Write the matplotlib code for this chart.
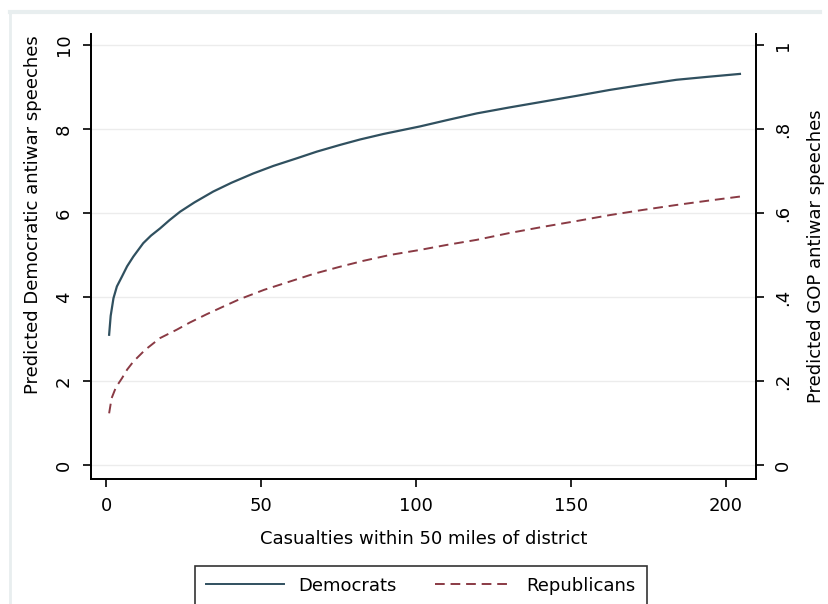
import matplotlib.pyplot as plt
from matplotlib.lines import Line2D

plt.rcParams['font.family'] = ['DejaVu Sans']

# values
casualties_dem = [1, 1.5, 2.4, 3.5, 5.1, 6.8, 8.8, 12, 14.5, 17.4, 20.5, 23.9, 28.5,
                  34.6, 40.5, 47.5, 54, 61.5, 68, 75.5, 82, 89.5, 101.3, 110, 119.6,
                  130, 141, 152, 162.6, 173, 184, 194, 204.5]
dem_speeches = [3.1, 3.55, 3.97, 4.25, 4.48, 4.73, 4.96, 5.28, 5.46, 5.63, 5.83, 6.03,
                6.25, 6.51, 6.72, 6.94, 7.12, 7.3, 7.46, 7.62, 7.75, 7.88, 8.06, 8.21,
                8.37, 8.51, 8.65, 8.79, 8.93, 9.05, 9.17, 9.24, 9.31]

casualties_rep = [1, 1.8, 3.2, 5.1, 6.8, 8.8, 12.6, 17.4, 22.8, 27, 32.5, 37.8, 43.2,
                  51, 59.4, 67, 75.5, 83, 91.6, 101.3, 110, 119.6, 130, 141, 152,
                  162.6, 173, 184, 194, 204.5]
rep_speeches = [0.123, 0.159, 0.185, 0.206, 0.227, 0.246, 0.274, 0.302, 0.322, 0.339,
                0.359, 0.377, 0.395, 0.417, 0.437, 0.455, 0.472, 0.486, 0.500, 0.512,
                0.524, 0.536, 0.552, 0.567, 0.581, 0.595, 0.607, 0.619, 0.629, 0.639]

x_ticks = [0, 50, 100, 150, 200]
left_ticks = [0, 2, 4, 6, 8, 10]
right_ticks = [0, 0.2, 0.4, 0.6, 0.8, 1]
right_labels = ["0", ".2", ".4", ".6", ".8", "1"]

dem_color = "#30505f"
rep_color = "#8a3a44"
fs = 13

fig = plt.figure(figsize=(8.29, 6.04), dpi=100)
ax = fig.add_axes([0.1098, 0.207, 0.8022, 0.7367])
ax2 = ax.twinx()

ax.plot(casualties_dem, dem_speeches, color=dem_color, lw=1.6)
ax2.plot(casualties_rep, rep_speeches, color=rep_color, lw=1.4, dashes=(5, 3))

ax.set_xlim(-4.84, 209.7)
ax.set_ylim(-0.333, 10.26)
ax2.set_ylim(-0.0333, 1.026)

ax.set_xticks(x_ticks)
ax.set_yticks(left_ticks)
ax2.set_yticks(right_ticks)
ax2.set_yticklabels(right_labels)

ax.grid(axis='y', color='#ececec', lw=1)
ax.set_axisbelow(True)

for a in (ax, ax2):
    a.spines['top'].set_visible(False)
    for s in ('left', 'right', 'bottom'):
        a.spines[s].set_linewidth(1.3)
        a.spines[s].set_color('black')
    a.tick_params(axis='both', length=6, width=1.2, labelsize=fs, pad=7)
    a.tick_params(axis='y', labelrotation=90)
for lab in ax.get_yticklabels() + ax2.get_yticklabels():
    lab.set_va('center')

ax.set_xlabel("Casualties within 50 miles of district", fontsize=fs, labelpad=11)
ax.set_ylabel("Predicted Democratic antiwar speeches", fontsize=fs, labelpad=9)
ax.yaxis.label.set_y(0.593)
ax2.set_ylabel("Predicted GOP antiwar speeches", fontsize=fs, labelpad=11, rotation=90)

handles = [Line2D([], [], color=dem_color, lw=1.4),
           Line2D([], [], color=rep_color, lw=1.4, dashes=(5, 3))]
leg = fig.legend(handles, ["Democrats", "Republicans"], loc='upper center',
                 bbox_to_anchor=(0.508, 0.063), ncol=2, fontsize=fs,
                 frameon=True, fancybox=False, edgecolor='black', borderaxespad=0,
                 handlelength=4.3, handletextpad=0.8, columnspacing=2.1, borderpad=0.6)
leg.get_frame().set_linewidth(1.2)

# faint outer frame
fig.add_artist(Line2D([10 / 829, 10 / 829], [0, 1 - 12 / 604], color='#e8eeef', lw=2,
                      transform=fig.transFigure))
fig.add_artist(Line2D([10 / 829, 820 / 829], [1 - 12 / 604, 1 - 12 / 604], color='#e8eeef',
                      lw=3, transform=fig.transFigure))

fig.savefig("out.png", dpi=100)
